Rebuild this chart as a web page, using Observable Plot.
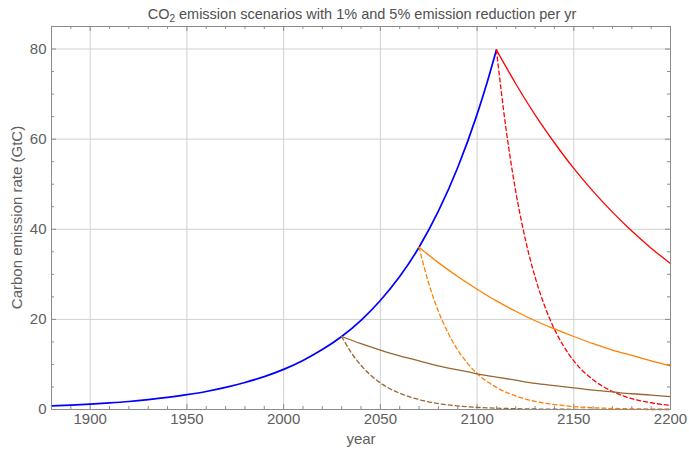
<!DOCTYPE html>
<html>
<head>
<meta charset="utf-8">
<script src="https://cdn.jsdelivr.net/npm/d3@7"></script>
<script src="https://cdn.jsdelivr.net/npm/@observablehq/plot@0.6"></script>
<style>
  html, body { margin: 0; padding: 0; background: #fff; }
  svg { display: block; }
</style>
</head>
<body>
<div id="chart"></div>
<script>
// ---- data ----
const growthYears = [1880,1890,1900,1910,1920,1930,1940,1950,1960,1970,1980,1990,2000,2010,2020,2030,2040,2050,2060,2070,2080,2090,2100,2105,2110];
const growthValues = [0.8,0.98,1.2,1.46,1.78,2.2,2.7,3.3,4.0,4.9,6.0,7.3,8.9,10.9,13.3,16.2,19.8,24.2,29.5,36.0,44.0,53.7,65.5,72.3,79.8];

const brown1Years = [2030,2040,2050,2060,2070,2080,2090,2100,2110,2120,2130,2140,2150,2160,2170,2180,2190,2200];
const brown1Values = [16.2,14.6,13.2,11.9,10.8,9.7,8.8,7.9,7.2,6.5,5.8,5.3,4.8,4.3,3.9,3.5,3.2,2.85];

const orange1Years = [2070,2080,2090,2100,2110,2120,2130,2140,2150,2160,2170,2180,2190,2200];
const orange1Values = [36.0,32.6,29.5,26.7,24.1,21.8,19.7,17.9,16.2,14.6,13.2,12.0,10.8,9.7];

const red1Years = [2110,2120,2130,2140,2150,2160,2170,2180,2190,2200];
const red1Values = [79.8,72.3,65.4,59.2,53.5,48.4,43.8,39.6,35.8,32.4];

const brown5Years = [2030,2035,2040,2045,2050,2055,2060,2070,2080,2090,2100,2110,2120,2140,2160,2180,2200];
const brown5Values = [16.2,12.6,9.8,7.6,5.9,4.6,3.6,2.2,1.3,0.8,0.48,0.3,0.18,0.07,0.03,0.01,0.0];

const orange5Years = [2070,2075,2080,2085,2090,2095,2100,2110,2120,2130,2140,2150,2160,2170,2180,2190,2200];
const orange5Values = [36.0,28.0,21.8,17.0,13.2,10.3,8.0,4.9,3.0,1.8,1.1,0.66,0.4,0.24,0.15,0.09,0.05];

const red5Years = [2110,2115,2120,2125,2130,2135,2140,2145,2150,2160,2170,2180,2190,2200];
const red5Values = [79.8,62.2,48.4,37.7,29.4,22.9,17.8,13.9,10.8,6.6,4.0,2.4,1.5,0.9];

const xMajorTicks = [1900,1950,2000,2050,2100,2150,2200];
const xTickLabels = ["1900","1950","2000","2050","2100","2150","2200"];
const yMajorTicks = [0,20,40,60,80];
const yTickLabels = ["0","20","40","60","80"];

const titleMain = "CO";
const titleSub = "2";
const titleRest = " emission scenarios with 1% and 5% emission reduction per yr";
const xLabel = "year";
const yLabel = "Carbon emission rate (GtC)";

// ---- build tables ----
const toRows = (years, values) => years.map((y, i) => ({year: y, value: values[i]}));
const growth = toRows(growthYears, growthValues);
const brown1 = toRows(brown1Years, brown1Values);
const orange1 = toRows(orange1Years, orange1Values);
const red1 = toRows(red1Years, red1Values);
const brown5 = toRows(brown5Years, brown5Values);
const orange5 = toRows(orange5Years, orange5Values);
const red5 = toRows(red5Years, red5Values);

const xMinor = d3.range(1880, 2201, 10).filter(v => !xMajorTicks.includes(v));
const yMinor = d3.range(0, 86, 5).filter(v => !yMajorTicks.includes(v));

const W = 689, H = 451;
const mL = 51, mR = 19, mT = 26, mB = 42;
const innerW = W - mL - mR, innerH = H - mT - mB;
const majLen = 5, minLen = 3;
const FONT = "'Liberation Sans', Arial, sans-serif";
const frameColor = "#8c8c8c";
const tickColor = "#8c8c8c";
const gridColor = "#d0d0d0";
const labelColor = "#606060";
const BROWN = "#996633", ORANGE = "#ff8000", RED = "#ff0000", BLUE = "#0000ff";

const lineOpts = (stroke, dashed) => ({
  x: "year", y: "value", stroke, strokeWidth: 1.3, curve: "monotone-x",
  strokeDasharray: dashed ? "4,3" : null
});

const plot = Plot.plot({
  width: W, height: H,
  marginLeft: mL, marginRight: mR, marginTop: mT, marginBottom: mB,
  style: {fontFamily: FONT, background: "#fff"},
  x: {domain: [1880, 2200], label: null},
  y: {domain: [0, 85], label: null},
  marks: [
    Plot.ruleX(xMajorTicks.filter(v => v < 2200), {stroke: gridColor, strokeWidth: 1}),
    Plot.ruleY(yMajorTicks.filter(v => v > 0), {stroke: gridColor, strokeWidth: 1}),
    // inward ticks: bottom/top
    Plot.tickX(xMajorTicks, {x: d => d, stroke: tickColor, insetTop: innerH - majLen}),
    Plot.tickX(xMajorTicks, {x: d => d, stroke: tickColor, insetBottom: innerH - majLen}),
    Plot.tickX(xMinor, {x: d => d, stroke: tickColor, insetTop: innerH - minLen}),
    Plot.tickX(xMinor, {x: d => d, stroke: tickColor, insetBottom: innerH - minLen}),
    // inward ticks: left/right
    Plot.tickY(yMajorTicks, {y: d => d, stroke: tickColor, insetRight: innerW - majLen}),
    Plot.tickY(yMajorTicks, {y: d => d, stroke: tickColor, insetLeft: innerW - majLen}),
    Plot.tickY(yMinor, {y: d => d, stroke: tickColor, insetRight: innerW - minLen}),
    Plot.tickY(yMinor, {y: d => d, stroke: tickColor, insetLeft: innerW - minLen}),
    Plot.axisX({ticks: xMajorTicks, tickFormat: (d, i) => xTickLabels[i], tickSize: 0, tickPadding: 4, fontSize: 15, color: labelColor, label: null}),
    Plot.axisY({ticks: yMajorTicks, tickFormat: (d, i) => yTickLabels[i], tickSize: 0, tickPadding: 5, fontSize: 15, color: labelColor, label: null}),
    // series
    Plot.line(growth, {...lineOpts(BLUE, false), strokeWidth: 1.7}),
    Plot.line(brown5, lineOpts(BROWN, true)),
    Plot.line(orange5, lineOpts(ORANGE, true)),
    Plot.line(red5, lineOpts(RED, true)),
    Plot.line(brown1, lineOpts(BROWN, false)),
    Plot.line(orange1, lineOpts(ORANGE, false)),
    Plot.line(red1, lineOpts(RED, false)),
    Plot.frame({stroke: frameColor, strokeWidth: 1}),
    // x axis title
    Plot.text([xLabel], {text: d => d, frameAnchor: "bottom", dy: 34, fontSize: 15, fill: labelColor})
  ]
});

const svg = d3.select(plot);
// y axis title
svg.append("text")
  .attr("transform", `translate(18,${mT + innerH / 2}) rotate(-90)`)
  .attr("text-anchor", "middle")
  .attr("dominant-baseline", "middle")
  .attr("font-size", 15)
  .attr("fill", labelColor)
  .attr("font-family", FONT)
  .text(yLabel);

// title with a real subscript
const t = svg.append("text")
  .attr("x", 362)
  .attr("y", 19)
  .attr("text-anchor", "middle")
  .attr("font-size", 14.5)
  .attr("fill", "#505050")
  .attr("font-family", FONT);
t.append("tspan").text(titleMain);
t.append("tspan").attr("font-size", 10).attr("dy", 3).text(titleSub);
t.append("tspan").attr("dy", -3).text(titleRest);

document.getElementById("chart").appendChild(plot);
</script>
</body>
</html>
